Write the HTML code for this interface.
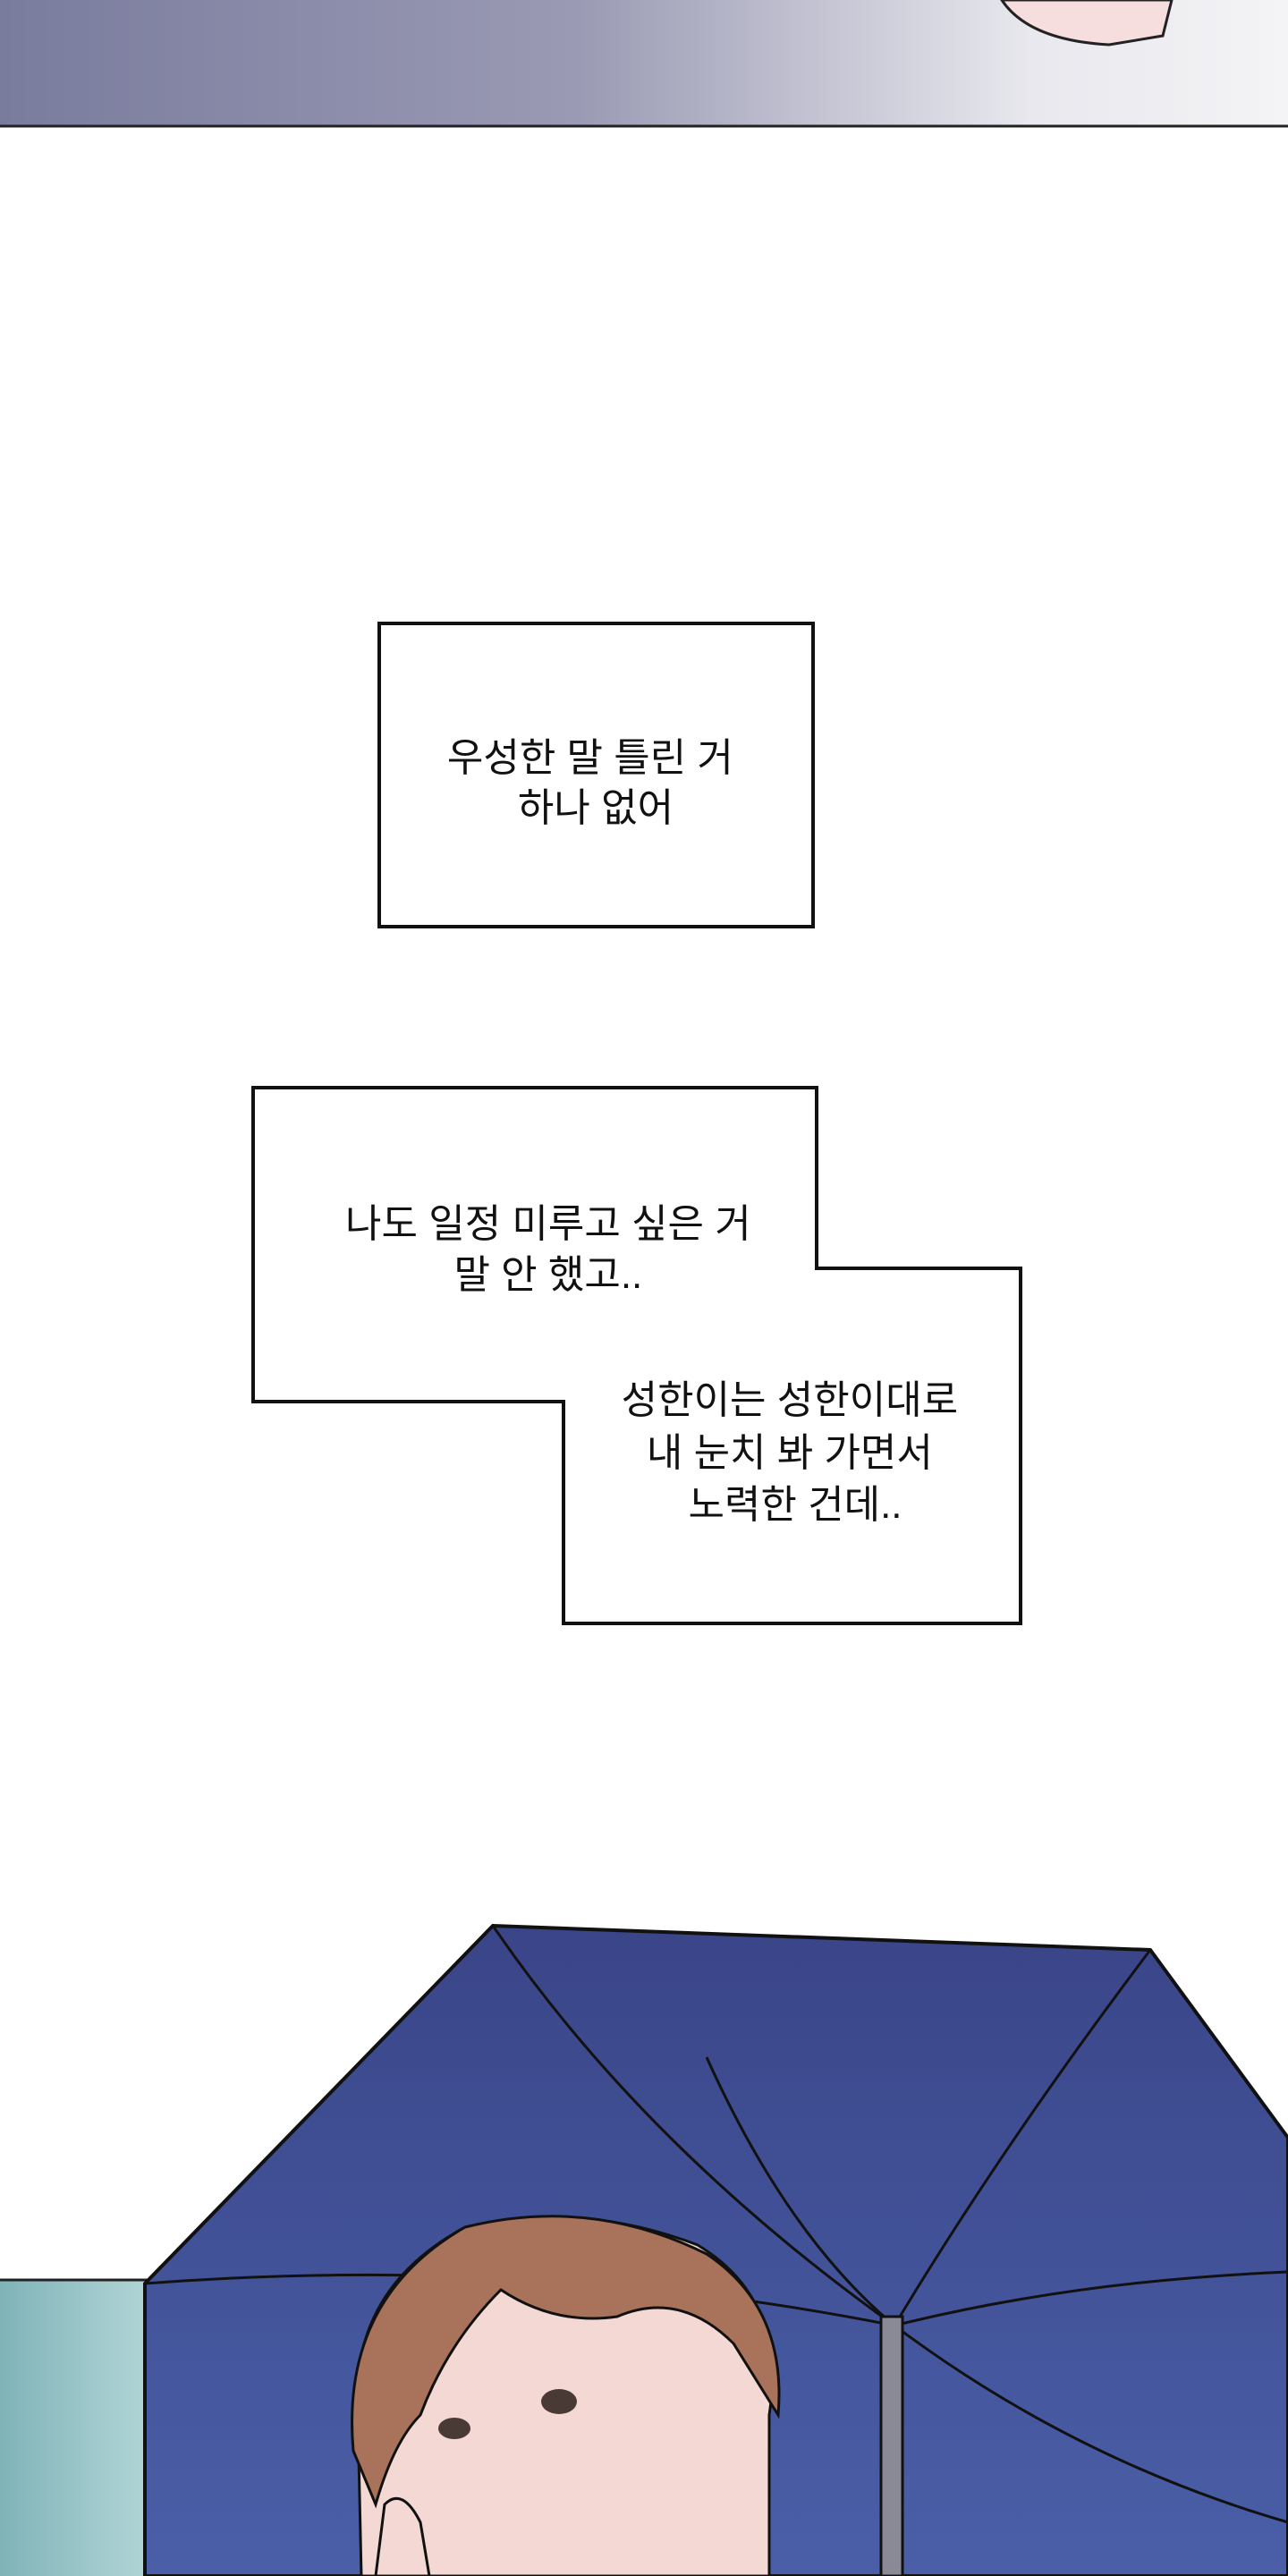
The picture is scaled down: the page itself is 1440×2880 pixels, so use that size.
<!DOCTYPE html>
<html><head><meta charset="utf-8"><style>
html,body{margin:0;padding:0;background:#fff;}
body{width:1440px;height:2880px;position:relative;overflow:hidden;}
svg{position:absolute;left:0;top:0;}
</style></head><body>
<svg width="1440" height="2880" viewBox="0 0 1440 2880" xmlns="http://www.w3.org/2000/svg">
<defs>
<linearGradient id="top" x1="0" y1="0" x2="1" y2="0">
<stop offset="0" stop-color="#7a7c9e"/><stop offset="0.45" stop-color="#9a9ab4"/><stop offset="0.8" stop-color="#e8e8ee"/><stop offset="1" stop-color="#f4f4f6"/>
</linearGradient>
<linearGradient id="umb" x1="0" y1="0" x2="0" y2="1">
<stop offset="0" stop-color="#3a4588"/><stop offset="1" stop-color="#4a5fa8"/>
</linearGradient>
<linearGradient id="rain" x1="0" y1="0" x2="1" y2="0">
<stop offset="0" stop-color="#7fb3b8"/><stop offset="1" stop-color="#c8e4e4"/>
</linearGradient>
</defs>
<rect x="0" y="0" width="1440" height="141" fill="url(#top)"/>
<path d="M1120 0 Q1150 45 1240 50 L1300 40 L1310 0 Z" fill="#f6dede" stroke="#222" stroke-width="3"/>
<line x1="0" y1="141" x2="1440" y2="141" stroke="#222" stroke-width="3"/>

<rect x="424" y="697" width="485" height="339" fill="#fff" stroke="#111" stroke-width="4"/>
<text font-family="'Liberation Sans','Noto Sans CJK KR',sans-serif" font-size="44" fill="#111" text-anchor="middle">
<tspan x="666" y="862">우성한 말 틀린 거</tspan>
<tspan x="666" y="918">하나 없어</tspan>
</text>

<polygon points="283,1216 913,1216 913,1418 1141,1418 1141,1815 630,1815 630,1567 283,1567" fill="#fff" stroke="#111" stroke-width="4"/>
<text font-family="'Liberation Sans','Noto Sans CJK KR',sans-serif" font-size="44" fill="#111" text-anchor="middle">
<tspan x="619" y="1383">나도 일정 미루고 싶은 거</tspan>
<tspan x="619" y="1440">말 안 했고..</tspan>
<tspan x="889" y="1580">성한이는 성한이대로</tspan>
<tspan x="889" y="1639">내 눈치 봐 가면서</tspan>
<tspan x="889" y="1697">노력한 건데..</tspan>
</text>

<rect x="0" y="2549" width="240" height="331" fill="url(#rain)"/>
<line x1="0" y1="2549" x2="240" y2="2549" stroke="#222" stroke-width="3"/>
<polygon points="551,2153 1286,2180 1440,2390 1440,2880 162,2880 162,2553" fill="url(#umb)" stroke="#111" stroke-width="4"/>
<g stroke="#111" stroke-width="3" fill="none">
<path d="M551 2153 Q720 2400 1000 2600"/>
<path d="M1286 2180 Q1120 2400 1000 2600"/>
<path d="M162 2553 Q600 2520 1000 2600"/>
<path d="M1440 2540 Q1200 2550 1000 2600"/>
<path d="M790 2300 Q880 2500 1000 2600"/>
<path d="M1000 2600 Q1200 2750 1440 2820"/>
</g>
<rect x="985" y="2590" width="24" height="290" fill="#8a8a96" stroke="#111" stroke-width="3"/>
<path d="M404 2880 L400 2700 Q390 2560 520 2490 Q650 2460 780 2510 Q880 2570 860 2700 L860 2880 Z" fill="#f3d8d4" stroke="#111" stroke-width="3"/>
<path d="M395 2740 Q380 2570 520 2490 Q660 2455 790 2520 Q880 2580 870 2700 L820 2620 Q760 2560 690 2590 Q620 2600 560 2560 Q500 2620 470 2700 Q440 2730 420 2800 Z" fill="#a9725a" stroke="#111" stroke-width="3"/>
<path d="M420 2880 L430 2800 Q450 2780 470 2820 L480 2880 Z" fill="#f3d8d4" stroke="#111" stroke-width="3"/>
<ellipse cx="625" cy="2685" rx="20" ry="14" fill="#4a3a36"/>
<ellipse cx="508" cy="2715" rx="18" ry="12" fill="#4a3a36"/>
</svg>
</body></html>
